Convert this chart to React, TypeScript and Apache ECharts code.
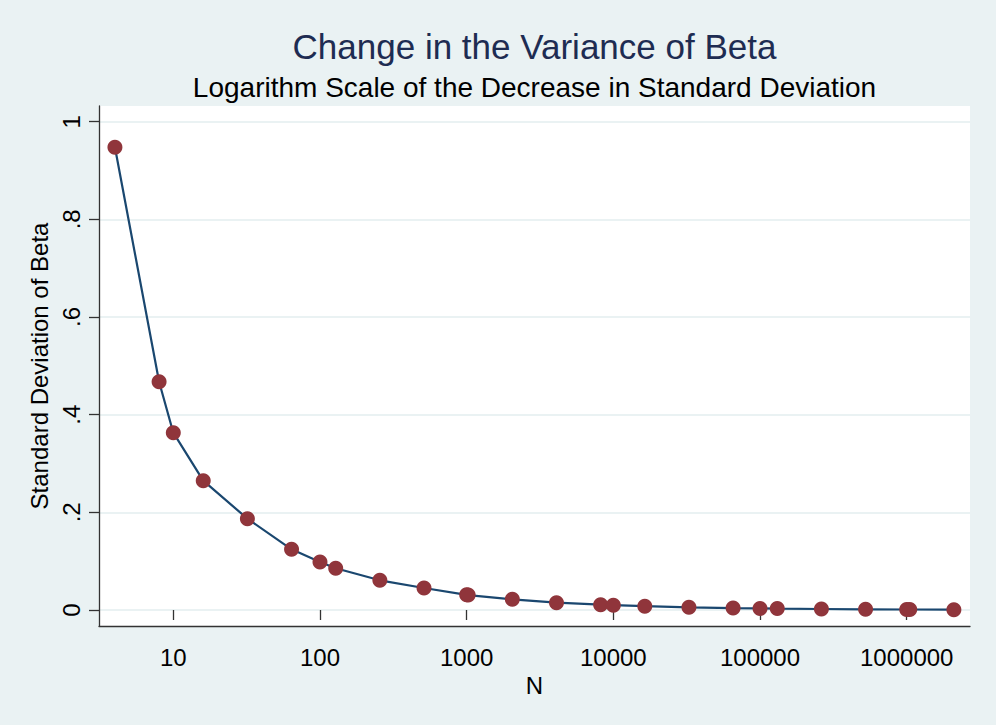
import React, { useEffect, useRef } from "react";
import * as echarts from "echarts";

// Sample sizes N (log-scaled x axis)
const sampleSizes = [
  4, 8, 10, 16, 32, 64, 100, 128, 256, 512, 1000, 1024, 2048, 4096, 8192,
  10000, 16384, 32768, 65536, 100000, 131072, 262144, 524288, 1000000,
  1048576, 2097152,
];

// Standard deviation of beta
const stdDevBeta = [
  0.9476, 0.4675, 0.3631, 0.2648, 0.187, 0.1243, 0.0983, 0.0854, 0.0608,
  0.0451, 0.031, 0.0305, 0.0219, 0.015, 0.0109, 0.0098, 0.0078, 0.0055,
  0.0039, 0.0032, 0.0028, 0.002, 0.0014, 0.001, 0.001, 0.0007,
];

const yTicks = [0, 0.2, 0.4, 0.6, 0.8, 1];
const xTickExponents = [1, 2, 3, 4, 5, 6];

const titleText = "Change in the Variance of Beta";
const subtitleText = "Logarithm Scale of the Decrease in Standard Deviation";
const xName = "N";
const yName = "Standard Deviation of Beta";

const FONT = "'Liberation Sans', Arial, sans-serif";
const BG = "#EAF2F3";

// x range of the plot region (data units)
const X_MIN = 3.115;
const X_MAX = 2701000;
const Y_MIN = -0.0328;
const Y_MAX = 1.0322;

export default function App() {
  const ref = useRef<HTMLDivElement>(null);

  useEffect(() => {
    const chart = echarts.init(ref.current!, null, { renderer: "svg" });
    const points = sampleSizes.map((n, i) => [n, stdDevBeta[i]]);

    chart.setOption({
      animation: false,
      backgroundColor: BG,
      textStyle: { fontFamily: FONT },
      title: [
        {
          text: titleText,
          left: 534.5,
          top: 29,
          textAlign: "center",
          padding: 0,
          textStyle: {
            fontFamily: FONT,
            fontSize: 35,
            fontWeight: "normal",
            color: "#1e2c52",
          },
        },
        {
          text: subtitleText,
          left: 534.5,
          top: 73,
          textAlign: "center",
          padding: 0,
          textStyle: {
            fontFamily: FONT,
            fontSize: 28,
            fontWeight: "normal",
            color: "#000000",
          },
        },
      ],
      grid: {
        left: 99,
        top: 106,
        width: 871,
        height: 520,
        show: true,
        backgroundColor: "#ffffff",
        borderWidth: 0,
        containLabel: false,
      },
      xAxis: [
        {
          type: "log",
          logBase: 10,
          min: X_MIN,
          max: X_MAX,
          position: "bottom",
          axisLine: { show: true, onZero: false, lineStyle: { color: "#333333", width: 1.3 } },
          axisTick: { show: false },
          axisLabel: { show: false },
          splitLine: { show: false },
        },
        {
          type: "value",
          min: Math.log10(X_MIN),
          max: Math.log10(X_MAX),
          position: "bottom",
          name: xName,
          nameLocation: "middle",
          nameGap: 44,
          nameTextStyle: { fontFamily: FONT, fontSize: 24, color: "#000000" },
          axisLine: { show: false },
          axisTick: {
            show: true,
            length: 10,
            customValues: xTickExponents,
            lineStyle: { color: "#333333", width: 1.3 },
          },
          axisLabel: {
            show: true,
            customValues: xTickExponents,
            margin: 19,
            fontFamily: FONT,
            fontSize: 24,
            color: "#000000",
            formatter: (v: number) => String(Math.round(Math.pow(10, v))),
          },
          splitLine: { show: false },
        },
      ],
      yAxis: {
        type: "value",
        min: Y_MIN,
        max: Y_MAX,
        name: yName,
        nameLocation: "middle",
        nameRotate: 90,
        nameGap: 44,
        nameTextStyle: { fontFamily: FONT, fontSize: 24, color: "#000000" },
        axisLine: { show: true, lineStyle: { color: "#333333", width: 1.3 } },
        axisTick: {
          show: true,
          length: 10,
          customValues: yTicks,
          lineStyle: { color: "#333333", width: 1.3 },
        },
        axisLabel: {
          show: true,
          customValues: yTicks,
          rotate: 90,
          margin: 16,
          fontFamily: FONT,
          fontSize: 24,
          color: "#000000",
          formatter: (v: number) =>
            v === 0 ? "0" : v === 1 ? "1" : v.toFixed(1).replace(/^0/, ""),
        },
        splitLine: { show: true, lineStyle: { color: BG, width: 2 } },
      },
      series: [
        {
          type: "line",
          xAxisIndex: 0,
          yAxisIndex: 0,
          data: points,
          smooth: false,
          symbol: "circle",
          symbolSize: 15,
          showAllSymbol: true,
          lineStyle: { color: "#1a476f", width: 2.2 },
          itemStyle: { color: "#90353b", borderWidth: 0 },
          z: 3,
        },
      ],
    });

    return () => chart.dispose();
  }, []);

  return (
    <div
      ref={ref}
      style={{
        position: "fixed",
        left: 0,
        top: 0,
        width: 996,
        height: 725,
        background: BG,
      }}
    />
  );
}
